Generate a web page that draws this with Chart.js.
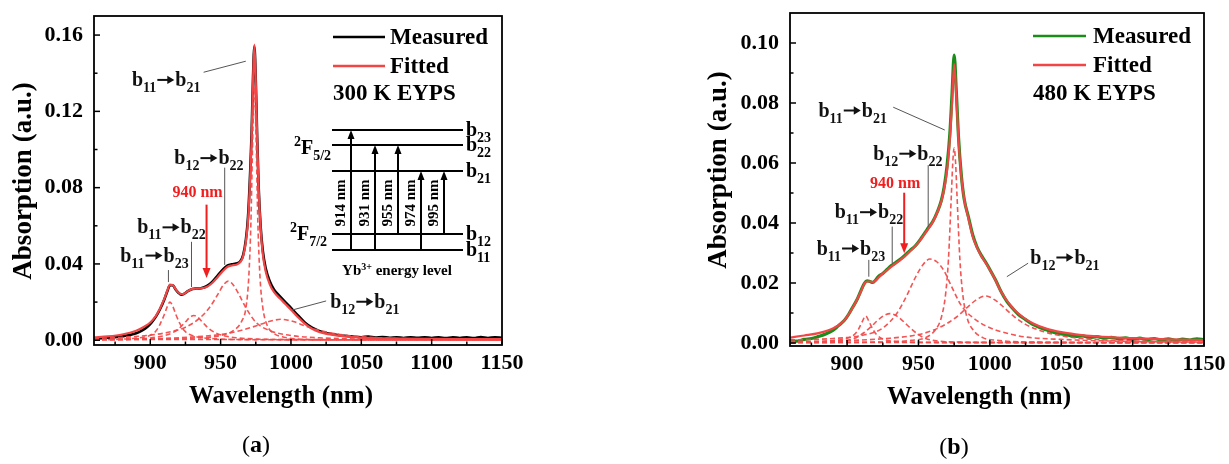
<!DOCTYPE html>
<html><head><meta charset="utf-8">
<script src="https://cdn.jsdelivr.net/npm/chart.js@4.4.1/dist/chart.umd.min.js"></script>
<style>
html,body{margin:0;padding:0;background:#fff;width:1229px;height:464px;overflow:hidden}
canvas{position:absolute;top:0}
#ca{left:0}
#cb{left:615px}
</style></head><body>
<canvas id="ca" width="560" height="464"></canvas>
<canvas id="cb" width="614" height="464"></canvas>
<script>
// ---------- tick values ----------
const wlTicks = [900, 950, 1000, 1050, 1100, 1150];
const wlMinor = [875, 925, 975, 1025, 1075, 1125];
const absTicksA = [0, 0.04, 0.08, 0.12, 0.16];
const absMinorA = [0.02, 0.06, 0.10, 0.14];
const absTicksB = [0, 0.02, 0.04, 0.06, 0.08, 0.10];
const absMinorB = [0.01, 0.03, 0.05, 0.07, 0.09];

// ---------- panel (a) 300 K ----------
const measA_x = [860,865,870,875,880,885,890,894,898,901,904,907,910,912,914,916,918,920,922,924,927,930,933,936,940,944,948,952,955,958,961,964,966,968,969.5,971,972,973,974,975,976,977,978.5,980,982,985,988,992,996,1000,1005,1010,1015,1020,1025,1030,1035,1040,1045,1050,1055,1060,1065,1070,1075,1080,1085,1090,1095,1100,1105,1110,1115,1120,1125,1130,1135,1140,1145,1150];
const measA_y = [0.0008,0.0010,0.0013,0.0016,0.0020,0.0027,0.0037,0.0051,0.0071,0.0094,0.0124,0.0164,0.0214,0.0254,0.0288,0.0288,0.0266,0.0249,0.0239,0.0243,0.0259,0.0269,0.0271,0.0273,0.0283,0.0306,0.0340,0.0374,0.0392,0.0398,0.0402,0.0414,0.0446,0.0530,0.0650,0.0880,0.1080,0.1370,0.1540,0.1360,0.1060,0.0810,0.0590,0.0468,0.0378,0.0308,0.0265,0.0231,0.0200,0.0170,0.0130,0.0092,0.0066,0.0049,0.0038,0.0031,0.0025,0.0022,0.0018,0.0016,0.0019,0.0014,0.0017,0.0013,0.0016,0.0012,0.0015,0.0013,0.0016,0.0012,0.0015,0.0011,0.0016,0.0012,0.0015,0.0011,0.0017,0.0012,0.0015,0.0013];
const fitA_x = [860,870,880,890,896,900,904,907,910,912,914,916,918,920,922,924,927,930,933,936,940,944,948,952,955,958,961,964,966,968,969.5,971,972,973,974,975,976,977,978.5,980,982,985,988,992,996,1000,1005,1010,1015,1020,1030,1040,1050,1075,1100,1125,1150];
const fitA_y = [0.0015,0.0020,0.0030,0.0050,0.0072,0.0093,0.0128,0.0168,0.0218,0.0258,0.0292,0.0290,0.0268,0.0250,0.0241,0.0244,0.0259,0.0269,0.0271,0.0272,0.0279,0.0300,0.0332,0.0366,0.0385,0.0392,0.0396,0.0410,0.0440,0.0520,0.0630,0.0850,0.1050,0.1350,0.1550,0.1350,0.1050,0.0800,0.0580,0.0450,0.0362,0.0292,0.0252,0.0220,0.0190,0.0160,0.0120,0.0086,0.0060,0.0044,0.0028,0.0019,0.0014,0.0009,0.0007,0.0006,0.0006];
const compA1_x = [870,885,895,900,904,907,910,912,914,916,918,921,924,928,935,945,960,1000,1150];
const compA1_y = [0.0003,0.0008,0.0016,0.0026,0.0048,0.0085,0.0135,0.0175,0.0200,0.0178,0.0138,0.0088,0.0052,0.0030,0.0015,0.0008,0.0004,0.0002,0.0001];
const compA2_x = [860,880,900,910,916,921,925,928,931,934,937,941,946,952,961,976,1001,1050,1150];
const compA2_y = [0.0003,0.0005,0.0012,0.0024,0.0040,0.0065,0.0096,0.0119,0.0130,0.0119,0.0096,0.0065,0.0040,0.0024,0.0013,0.0006,0.0003,0.0001,0.0001];
const compA3_x = [860,880,900,915,925,935,942,948,952,955.5,959,963,968,975,985,1000,1020,1050,1100,1150];
const compA3_y = [0.0010,0.0015,0.0027,0.0045,0.0068,0.0115,0.0170,0.0240,0.0290,0.0310,0.0290,0.0240,0.0170,0.0095,0.0050,0.0025,0.0013,0.0006,0.0003,0.0002];
const compA4_x = [860,900,930,950,960,965,968,970,971.5,973,974,975,976.5,978,980,983,988,995,1010,1050,1150];
const compA4_y = [0.0002,0.0005,0.0011,0.0025,0.0055,0.0100,0.0170,0.0330,0.0610,0.1120,0.1330,0.1120,0.0610,0.0330,0.0170,0.0080,0.0035,0.0016,0.0005,0.0002,0.0001];
const compA5_x = [860,900,930,950,965,975,983,988,993,998,1003,1010,1020,1035,1060,1100,1150];
const compA5_y = [0.0003,0.0007,0.0017,0.0030,0.0052,0.0075,0.0095,0.0105,0.0110,0.0105,0.0095,0.0075,0.0052,0.0030,0.0014,0.0006,0.0003];
const baseA_x = [860, 1150];
const baseA_y = [0.0004, 0.0004];

// ---------- panel (b) 480 K ----------
const measB_x = [860,865,870,875,880,885,890,894,898,901,904,907,910,912,914,916,918,920,922,925,928,931,934,937,940,944,948,952,956,960,963,966,968,970,972,973.5,975,976.5,978,980,982,985,988,991,994,997,1000,1004,1008,1012,1016,1020,1025,1030,1035,1040,1045,1050,1055,1060,1065,1070,1075,1080,1085,1090,1095,1100,1105,1110,1115,1120,1125,1130,1135,1140,1145,1150];
const measB_y = [0.0008,0.0006,0.0012,0.0015,0.0022,0.0030,0.0042,0.0058,0.0075,0.0095,0.0120,0.0145,0.0178,0.0198,0.0207,0.0205,0.0202,0.0210,0.0222,0.0232,0.0245,0.0258,0.0268,0.0278,0.0290,0.0308,0.0325,0.0350,0.0378,0.0405,0.0435,0.0475,0.0520,0.0590,0.0700,0.0830,0.0960,0.0840,0.0690,0.0560,0.0480,0.0420,0.0360,0.0320,0.0292,0.0270,0.0245,0.0210,0.0170,0.0138,0.0115,0.0095,0.0078,0.0062,0.0052,0.0043,0.0035,0.0030,0.0026,0.0022,0.0024,0.0018,0.0021,0.0016,0.0019,0.0014,0.0017,0.0012,0.0016,0.0011,0.0015,0.0010,0.0014,0.0009,0.0013,0.0010,0.0014,0.0011];
const fitB_x = [860,870,880,890,898,903,907,910,912,914,916,918,920,924,928,932,936,940,945,950,955,960,964,967,970,972,973.5,975,976.5,978,980,982,985,988,991,994,998,1003,1008,1015,1022,1030,1040,1050,1060,1075,1100,1125,1150];
const fitB_y = [0.0018,0.0025,0.0033,0.0048,0.0075,0.0110,0.0145,0.0175,0.0197,0.0205,0.0205,0.0203,0.0208,0.0227,0.0243,0.0258,0.0272,0.0287,0.0310,0.0335,0.0368,0.0403,0.0445,0.0490,0.0575,0.0680,0.0800,0.0930,0.0820,0.0680,0.0555,0.0480,0.0415,0.0355,0.0318,0.0290,0.0260,0.0218,0.0170,0.0122,0.0090,0.0066,0.0047,0.0036,0.0029,0.0022,0.0016,0.0012,0.0010];
const compB1_x = [860,890,900,905,908,910.5,913,915.5,918,921,926,935,950,1000,1150];
const compB1_y = [0.0002,0.0008,0.0016,0.0028,0.0046,0.0070,0.0090,0.0070,0.0046,0.0026,0.0012,0.0005,0.0002,0.0001,0.0001];
const compB2_x = [860,890,905,912,918,922,926,930,934,938,942,948,955,965,980,1000,1050,1150];
const compB2_y = [0.0002,0.0005,0.0015,0.0035,0.0060,0.0078,0.0092,0.0098,0.0092,0.0078,0.0060,0.0035,0.0015,0.0006,0.0003,0.0002,0.0001,0.0001];
const compB3_x = [860,890,910,925,935,942,948,953,958,963,968,973,980,988,998,1010,1025,1050,1100,1150];
const compB3_y = [0.0010,0.0015,0.0025,0.0050,0.0100,0.0160,0.0220,0.0260,0.0280,0.0270,0.0240,0.0190,0.0125,0.0085,0.0055,0.0035,0.0020,0.0012,0.0005,0.0003];
const compB4_x = [860,920,945,955,962,966,969,971,973,974,975,976,977,979,981,984,988,995,1005,1030,1150];
const compB4_y = [0.0001,0.0003,0.0009,0.0018,0.0045,0.0085,0.0163,0.0279,0.0490,0.0600,0.0650,0.0600,0.0490,0.0279,0.0163,0.0085,0.0045,0.0018,0.0009,0.0003,0.0001];
const compB5_x = [860,900,930,950,960,970,978,984,990,997,1004,1010,1017,1025,1035,1050,1070,1100,1150];
const compB5_y = [0.0004,0.0008,0.0016,0.0028,0.0042,0.0065,0.0092,0.0118,0.0142,0.0157,0.0142,0.0118,0.0088,0.0062,0.0042,0.0024,0.0013,0.0007,0.0003];
const baseB_x = [860, 1150];
const baseB_y = [0.0002, 0.0002];

// ---------- text helpers ----------
const FF = '"Liberation Serif","Times New Roman",serif';
function fnt(sz, bold){ return (bold===false?'':'bold ') + sz + 'px ' + FF; }
function partW(ctx, t, k, fs){
  if (k === 3) return fs*0.95;
  ctx.font = fnt(k ? Math.round(fs*0.68) : fs);
  return ctx.measureText(t).width;
}
function richW(ctx, parts, fs){
  let w = 0;
  for (const [t,k] of parts) w += partW(ctx, t, k, fs);
  return w;
}
function rich(ctx, parts, x, y, fs, color, align){
  const w = richW(ctx, parts, fs);
  let cx = align === 'center' ? x - w/2 : x;
  ctx.fillStyle = color; ctx.strokeStyle = color; ctx.textBaseline = 'alphabetic'; ctx.textAlign = 'left';
  const base = y + fs*0.33;
  for (const [t,k] of parts){
    const pw = partW(ctx, t, k, fs);
    if (k === 3){
      // bold arrow
      const ay = base - fs*0.3, x0 = cx + 1, x1 = cx + pw - 1;
      ctx.lineWidth = fs*0.1;
      ctx.beginPath(); ctx.moveTo(x0, ay); ctx.lineTo(x1 - 5, ay); ctx.stroke();
      ctx.beginPath(); ctx.moveTo(x1, ay); ctx.lineTo(x1 - 7, ay - 4.2); ctx.lineTo(x1 - 7, ay + 4.2); ctx.closePath(); ctx.fill();
    } else {
      const f = k ? Math.round(fs*0.68) : fs;
      ctx.font = fnt(f);
      const dy = k === 1 ? fs*0.30 : (k === 2 ? -fs*0.36 : 0);
      ctx.fillText(t, cx, base + dy);
    }
    cx += pw;
  }
}
function trans(a, b){ return [['b',0],[a,1],['',3],['b',0],[b,1]]; }

function pts(xs, ys){ return xs.map((x,i)=>({x:x, y:ys[i]})); }

const RED = 'rgb(242,70,70)';
const DASH = 'rgba(242,75,75,0.95)';

function dsDashed(xs, ys){
  return {data: pts(xs, ys), borderColor: DASH, borderWidth: 1.6, borderDash: [5,3], pointRadius: 0, cubicInterpolationMode: 'monotone', order: 1};
}

// annotations in data coordinates
const annotA = [
  {t: trans('11','21'), x: 887, y: 0.1368, l: [937.9, 0.1405, 967.9, 0.1463]},
  {t: trans('12','22'), x: 917.1, y: 0.0958, l: [952.9, 0.0905, 952.9, 0.0395]},
  {t: trans('11','22'), x: 890.7, y: 0.0595, l: [929.3, 0.0516, 929.3, 0.0279]},
  {t: trans('11','23'), x: 878.6, y: 0.0447, l: [912.9, 0.0368, 912.9, 0.0305]},
  {t: trans('12','21'), x: 1027.9, y: 0.0205, l: [1000.7, 0.0158, 1025, 0.0206]}
];
const arrowA = {label: '940 nm', x: 940, ty: 0.0774, y1: 0.0711, y2: 0.0326};
const annotB = [
  {t: trans('11','21'), x: 879.9, y: 0.0777, l: [932.3, 0.0786, 968.4, 0.0710]},
  {t: trans('12','22'), x: 918.3, y: 0.0633, l: [956.8, 0.0593, 956.8, 0.0388]},
  {t: trans('11','22'), x: 891.3, y: 0.0438, l: [931.6, 0.0388, 931.6, 0.0266]},
  {t: trans('11','23'), x: 878.7, y: 0.0317, l: [915.2, 0.0277, 915.2, 0.0221]},
  {t: trans('12','21'), x: 1028.3, y: 0.0287, l: [1011.9, 0.0221, 1026.8, 0.0266]}
];
const arrowB = {label: '940 nm', x: 940, ty: 0.0532, y1: 0.0501, y2: 0.0299};

function drawInset(ctx){
  // Yb3+ energy level diagram (panel a)
  const x0 = 332, x1 = 463;
  const levels = [[130,'23'],[145,'22'],[171,'21'],[234,'12'],[250,'11']];
  ctx.strokeStyle = '#000'; ctx.lineWidth = 2.2;
  for (const [y,n] of levels){
    ctx.beginPath(); ctx.moveTo(x0, y); ctx.lineTo(x1, y); ctx.stroke();
    rich(ctx, [['b',0],[n,1]], 466, y - 1, 20, '#000', 'left');
  }
  const arr = [[351,250,130,'914 nm'],[375,250,145,'931 nm'],[398,234,145,'955 nm'],[421,250,171,'974 nm'],[444,234,171,'995 nm']];
  for (const [x,yf,yt,lab] of arr){
    ctx.lineWidth = 2; ctx.strokeStyle = '#000';
    ctx.beginPath(); ctx.moveTo(x, yf); ctx.lineTo(x, yt + 7); ctx.stroke();
    ctx.fillStyle = '#000';
    ctx.beginPath(); ctx.moveTo(x, yt); ctx.lineTo(x - 3.5, yt + 9); ctx.lineTo(x + 3.5, yt + 9); ctx.closePath(); ctx.fill();
    ctx.save(); ctx.translate(x - 9.5, 203); ctx.rotate(-Math.PI/2);
    ctx.font = fnt(15); ctx.textAlign = 'center'; ctx.textBaseline = 'middle';
    ctx.fillText(lab, 0, 0); ctx.restore();
  }
  rich(ctx, [['2',2],['F',0],['5/2',1]], 294, 147, 20, '#000', 'left');
  rich(ctx, [['2',2],['F',0],['7/2',1]], 290, 233, 20, '#000', 'left');
  rich(ctx, [['Yb',0],['3+',2],[' energy level',0]], 397, 270, 15, '#000', 'center');
}

function makePanel(id, W, H, area, cfg){
  const framePlugin = {
    id: 'frame_' + id,
    afterDatasetsDraw(chart){
      const ctx = chart.ctx, ca = chart.chartArea;
      const xs = chart.scales.x, ys = chart.scales.y;
      ctx.save();
      ctx.strokeStyle = '#000'; ctx.lineWidth = 1.8;
      ctx.strokeRect(ca.left, ca.top, ca.right - ca.left, ca.bottom - ca.top);
      ctx.lineWidth = 1.5;
      const tk = (vals, len, axis) => {
        for (const v of vals){
          ctx.beginPath();
          if (axis === 'x'){ const p = xs.getPixelForValue(v); ctx.moveTo(p, ca.bottom); ctx.lineTo(p, ca.bottom - len); }
          else { const p = ys.getPixelForValue(v); ctx.moveTo(ca.left, p); ctx.lineTo(ca.left + len, p); }
          ctx.stroke();
        }
      };
      tk(wlTicks, 6, 'x'); tk(wlMinor, 3.5, 'x');
      tk(cfg.yTicks, 6, 'y'); tk(cfg.yMinor, 3.5, 'y');
      for (const a of cfg.annot){
        ctx.strokeStyle = '#555'; ctx.lineWidth = 1;
        ctx.beginPath();
        ctx.moveTo(xs.getPixelForValue(a.l[0]), ys.getPixelForValue(a.l[1]));
        ctx.lineTo(xs.getPixelForValue(a.l[2]), ys.getPixelForValue(a.l[3]));
        ctx.stroke();
        rich(ctx, a.t, xs.getPixelForValue(a.x), ys.getPixelForValue(a.y), 20, '#111', 'left');
      }
      const ar = cfg.arrow;
      const ax = xs.getPixelForValue(ar.x);
      ctx.font = fnt(16); ctx.fillStyle = 'rgb(240,30,30)'; ctx.textAlign = 'center'; ctx.textBaseline = 'middle';
      ctx.fillText(ar.label, ax - 9, ys.getPixelForValue(ar.ty));
      const ay1 = ys.getPixelForValue(ar.y1), ay2 = ys.getPixelForValue(ar.y2);
      ctx.strokeStyle = 'rgb(240,30,30)'; ctx.lineWidth = 2;
      ctx.beginPath(); ctx.moveTo(ax, ay1); ctx.lineTo(ax, ay2 - 8); ctx.stroke();
      ctx.beginPath(); ctx.moveTo(ax, ay2); ctx.lineTo(ax - 4, ay2 - 10); ctx.lineTo(ax + 4, ay2 - 10); ctx.closePath(); ctx.fill();
      const lg = cfg.legend;
      ctx.lineWidth = 2.6;
      ctx.strokeStyle = lg.c1; ctx.beginPath(); ctx.moveTo(lg.x0, lg.y1); ctx.lineTo(lg.x1, lg.y1); ctx.stroke();
      ctx.strokeStyle = RED; ctx.beginPath(); ctx.moveTo(lg.x0, lg.y2); ctx.lineTo(lg.x1, lg.y2); ctx.stroke();
      ctx.font = fnt(23); ctx.fillStyle = '#000'; ctx.textAlign = 'left'; ctx.textBaseline = 'middle';
      ctx.fillText('Measured', lg.tx, lg.y1 + 1);
      ctx.fillText('Fitted', lg.tx, lg.y2 + 1);
      ctx.fillText(lg.temp, lg.x0, lg.y3 + 1);
      if (cfg.inset) drawInset(ctx);
      ctx.restore();
    },
    afterDraw(chart){
      const ctx = chart.ctx;
      ctx.save();
      ctx.fillStyle = '#000'; ctx.textAlign = 'center'; ctx.textBaseline = 'middle';
      ctx.font = fnt(25);
      ctx.fillText('Wavelength (nm)', cfg.xt[0], cfg.xt[1]);
      ctx.save(); ctx.translate(cfg.yt[0], cfg.yt[1]); ctx.rotate(-Math.PI/2);
      ctx.font = fnt(27); ctx.fillText('Absorption (a.u.)', 0, 0); ctx.restore();
      const px = cfg.pl[0], py = cfg.pl[1];
      ctx.font = fnt(24, false);
      const wp = ctx.measureText('(').width;
      ctx.font = fnt(24); const wa = ctx.measureText(cfg.letter).width;
      let sx = px - (wp*2 + wa)/2;
      ctx.textAlign = 'left';
      ctx.font = fnt(24, false); ctx.fillText('(', sx, py); sx += wp;
      ctx.font = fnt(24); ctx.fillText(cfg.letter, sx, py); sx += wa;
      ctx.font = fnt(24, false); ctx.fillText(')', sx, py);
      ctx.restore();
    }
  };
  const zeroPad = s => { s.paddingTop = 0; s.paddingBottom = 0; s.paddingLeft = 0; s.paddingRight = 0; };
  return new Chart(document.getElementById(id), {
    type: 'line',
    data: {datasets: cfg.datasets},
    options: {
      responsive: false, animation: false, events: [],
      layout: {padding: {left: 0, top: area.top, right: W - area.right, bottom: 0}, autoPadding: false},
      plugins: {legend: {display: false}, tooltip: {enabled: false}},
      scales: {
        x: {type: 'linear', min: 860, max: 1150,
            afterBuildTicks: s => { s.ticks = wlTicks.map(v => ({value: v})); },
            afterFit: s => { s.height = H - area.bottom; zeroPad(s); },
            grid: {display: false, drawTicks: false}, border: {display: false},
            ticks: {color: '#000', font: {family: FF, weight: 'bold', size: 22}, padding: 5, maxRotation: 0, autoSkip: false, callback: v => String(v)}},
        y: {type: 'linear', min: cfg.ymin, max: cfg.ymax,
            afterBuildTicks: s => { s.ticks = cfg.yTicks.map(v => ({value: v})); },
            afterFit: s => { s.width = area.left; zeroPad(s); },
            grid: {display: false, drawTicks: false}, border: {display: false},
            ticks: {color: '#000', font: {family: FF, weight: 'bold', size: 22}, padding: 11, callback: v => Number(v).toFixed(2)}}
      }
    },
    plugins: [framePlugin]
  });
}

makePanel('ca', 560, 464, {left: 94, top: 16, right: 502, bottom: 345}, {
  ymin: -0.0025, ymax: 0.17, yTicks: absTicksA, yMinor: absMinorA,
  datasets: [
    {data: pts(fitA_x, fitA_y), borderColor: RED, borderWidth: 2.2, pointRadius: 0, cubicInterpolationMode: 'monotone', order: 0},
    dsDashed(compA1_x, compA1_y), dsDashed(compA2_x, compA2_y), dsDashed(compA3_x, compA3_y),
    dsDashed(compA4_x, compA4_y), dsDashed(compA5_x, compA5_y), dsDashed(baseA_x, baseA_y),
    {data: pts(measA_x, measA_y), borderColor: '#000', borderWidth: 2.6, pointRadius: 0, cubicInterpolationMode: 'monotone', order: 2}
  ],
  annot: annotA, arrow: arrowA,
  legend: {x0: 333, x1: 385, tx: 390, y1: 37, y2: 66, y3: 93, c1: '#000', temp: '300 K EYPS'},
  inset: true, xt: [281, 397], yt: [24, 181], pl: [256, 446], letter: 'a'
});

makePanel('cb', 614, 464, {left: 175, top: 13, right: 589, bottom: 346}, {
  ymin: -0.001, ymax: 0.11, yTicks: absTicksB, yMinor: absMinorB,
  datasets: [
    {data: pts(fitB_x, fitB_y), borderColor: RED, borderWidth: 2.2, pointRadius: 0, cubicInterpolationMode: 'monotone', order: 0},
    dsDashed(compB1_x, compB1_y), dsDashed(compB2_x, compB2_y), dsDashed(compB3_x, compB3_y),
    dsDashed(compB4_x, compB4_y), dsDashed(compB5_x, compB5_y), dsDashed(baseB_x, baseB_y),
    {data: pts(measB_x, measB_y), borderColor: 'rgb(25,140,25)', borderWidth: 3.2, pointRadius: 0, cubicInterpolationMode: 'monotone', order: 2}
  ],
  annot: annotB, arrow: arrowB,
  legend: {x0: 418, x1: 471, tx: 478, y1: 36, y2: 65, y3: 93, c1: 'rgb(25,140,25)', temp: '480 K EYPS'},
  inset: false, xt: [364, 398], yt: [104, 170], pl: [339, 448], letter: 'b'
});
</script>
</body></html>
